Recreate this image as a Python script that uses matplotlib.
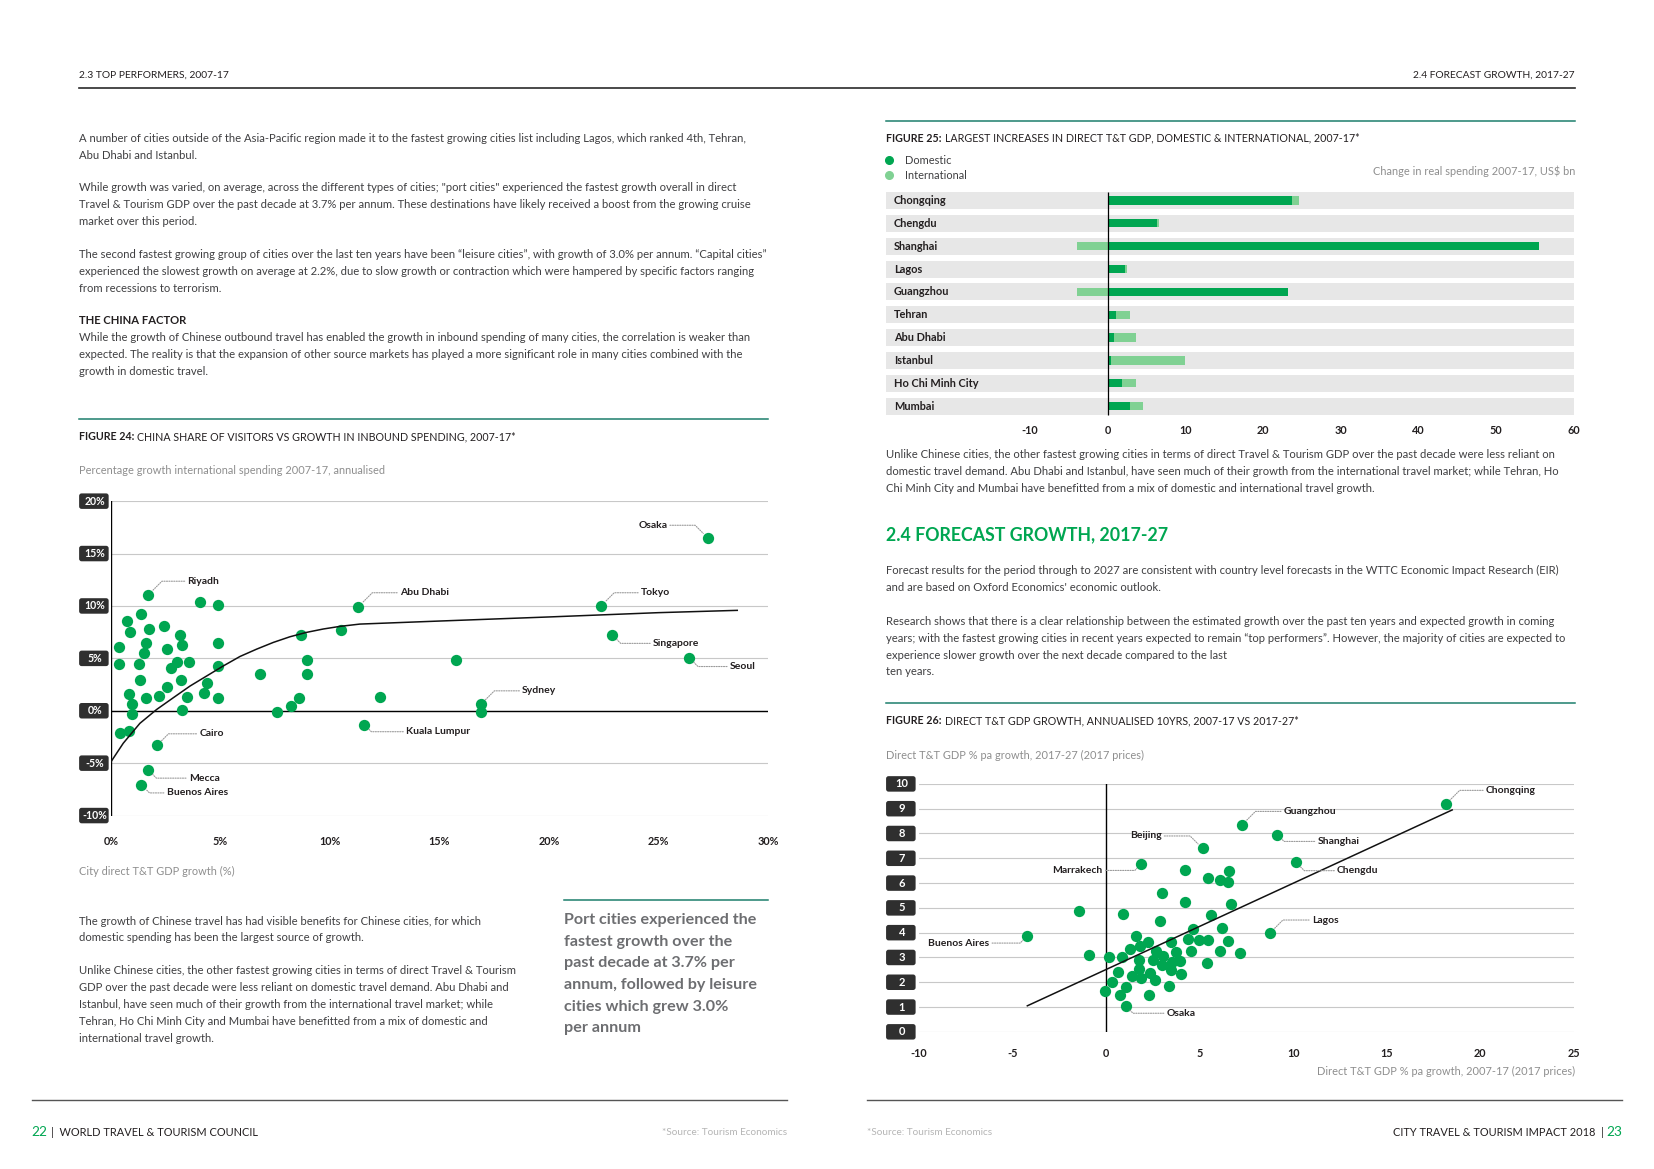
import matplotlib
matplotlib.use("Agg")
import matplotlib.pyplot as plt
from matplotlib.patches import FancyBboxPatch
from matplotlib.lines import Line2D
from matplotlib.transforms import IdentityTransform, blended_transform_factory

# ---- Figure 24: China share of visitors vs growth in inbound spending ----
city24 = ['Osaka', 'Riyadh', '', '', 'Abu Dhabi', 'Tokyo', '', '', '', '', '', '', '', '',
          'Singapore', '', '', '', '', '', '', '', '', '', '', '', '', '', '', 'Seoul',
          '', '', '', '', '', '', '', '', '', '', '', '', '', '', '', '', 'Sydney',
          '', '', '', '', '', '', 'Kuala Lumpur', 'Cairo', 'Mecca', 'Buenos Aires']
gdp_growth24 = [27.25, 1.71, 4.06, 4.91, 11.29, 22.38, 1.38, 0.73, 2.42, 1.75, 0.86, 3.15, 8.67, 10.5,
                22.9, 0.38, 1.63, 3.25, 4.91, 2.56, 1.5, 0.36, 1.27, 3.02, 3.56, 2.75, 4.91, 8.94, 15.75, 26.41,
                1.35, 3.2, 4.41, 6.82, 8.94, 2.56, 0.82, 4.25, 2.2, 3.5, 1.63, 4.91, 8.6, 12.27, 0.95, 8.25, 16.89,
                3.25, 0.95, 7.58, 16.89, 0.4, 0.83, 11.58, 2.11, 1.71, 1.4]
intl_growth24 = [16.5, 11.05, 10.37, 10.12, 9.9, 10.0, 9.27, 8.58, 8.1, 7.83, 7.55, 7.2, 7.25, 7.72,
                 7.22, 6.13, 6.44, 6.23, 6.44, 5.87, 5.5, 4.45, 4.46, 4.62, 4.63, 4.05, 4.24, 4.82, 4.89, 5.05,
                 2.95, 2.91, 2.63, 3.48, 3.48, 2.24, 1.62, 1.7, 1.4, 1.32, 1.18, 1.2, 1.23, 1.31, 0.67, 0.5, 0.6,
                 0.08, -0.3, -0.16, -0.1, -2.15, -1.97, -1.34, -3.3, -5.65, -7.07]
trend24_x = [0, 0.57, 1.33, 2.1, 2.86, 3.62, 4.38, 5.14, 5.9, 6.66, 7.42, 8.18, 8.94, 9.7, 10.46,
             11.37, 15, 20, 25, 28.6]
trend24_y = [-4.9, -3.1, -1.2, 0.13, 1.25, 2.36, 3.32, 4.28, 5.18, 5.88, 6.52, 7.06, 7.48, 7.8, 8.05,
             8.27, 8.56, 8.95, 9.36, 9.58]
xticks24 = [0, 5, 10, 15, 20, 25, 30]
yticks24 = [-10, -5, 0, 5, 10, 15, 20]

# ---- Figure 25: largest increases in direct T&T GDP ----
cities25 = ['Chongqing', 'Chengdu', 'Shanghai', 'Lagos', 'Guangzhou', 'Tehran', 'Abu Dhabi',
            'Istanbul', 'Ho Chi Minh City', 'Mumbai']
domestic25 = [23.7, 6.3, 55.5, 2.2, 23.2, 1.1, 0.8, 0.5, 1.8, 2.9]
international25 = [0.9, 0.3, -3.9, 0.35, -3.9, 1.8, 2.9, 9.5, 1.9, 1.6]
xticks25 = [-10, 0, 10, 20, 30, 40, 50, 60]

# ---- Figure 26: direct T&T GDP growth 2007-17 vs 2017-27 ----
city26 = ['Chongqing', 'Guangzhou', 'Shanghai', 'Beijing', 'Chengdu', 'Marrakech', '', '', '', '', '',
          '', '', '', '', '', '', '', '', '', 'Lagos', 'Buenos Aires', '', '', '', '', '', '', '', '', '',
          '', '', '', '', '', '', '', '', '', '', '', '', '', '', '', '', '', '', '', '', '', '', '', '',
          '', '', '', '', '', 'Osaka']
past26 = [18.16, 7.26, 9.16, 5.16, 10.15, 1.89, 4.2, 6.6, 5.46, 6.09, 6.52,
          3.0, 4.2, 6.67, -1.42, 0.9, 5.63, 2.89, 6.21, 4.67, 8.78, -4.2, 1.6, 2.26, 3.5, 4.4, 4.95, 5.47,
          6.51, 1.26, 1.82, 2.66, 3.75, 4.52, 6.09, 7.16, -0.9, 0.16, 0.85, 1.79, 2.51, 3.05, 3.51, 3.96,
          3.0, 5.42, 0.64, 1.77, 2.36, 3.5, 4.03, 1.4, 1.88, 2.62, 0.3, 1.05, 3.38, -0.03, 0.73, 2.32, 1.05]
future26 = [9.18, 8.34, 7.95, 7.4, 6.84, 6.77, 6.53, 6.49, 6.2, 6.13, 6.03,
            5.58, 5.22, 5.17, 4.87, 4.75, 4.71, 4.46, 4.2, 4.13, 4.0, 3.87, 3.88, 3.63, 3.63, 3.73, 3.71, 3.71,
            3.67, 3.36, 3.48, 3.25, 3.24, 3.26, 3.28, 3.2, 3.09, 3.01, 3.01, 2.91, 2.88, 3.05, 2.82, 2.85,
            2.68, 2.77, 2.42, 2.52, 2.38, 2.5, 2.33, 2.24, 2.16, 2.08, 2.0, 1.81, 1.84, 1.65, 1.48, 1.49, 1.05]
trend26_x = [-4.2, 18.5]
trend26_y = [1.05, 8.95]
xticks26 = [-10, -5, 0, 5, 10, 15, 20, 25]
yticks26 = list(range(0, 11))

# ---- styling ----
GREEN = '#00a651'
LIGHT_GREEN = '#80d193'
TEXT = '#3f3f41'
DARK = '#231f20'
GREY = '#8e8e8e'
TEAL = '#1d7f6c'
BOX = '#2f2f2f'
GRID = '#c8c8c8'
BAND = '#e7e7e7'
BODY = 8.1
CAP = 7.9
TITLE = 7.65

plt.rcParams['font.family'] = ['Lato', 'DejaVu Sans']

fig = plt.figure(figsize=(16.54, 11.69), dpi=100)
renderer = fig.canvas.get_renderer()

# layout measured on a 1568 x 1108 preview of the page
W, H = 1568.0, 1108.0
S = 1654.0 / W


def fx(x):
    return x / W


def fy(y):
    return 1 - y / H


def put(x, y, s, size=BODY, color=TEXT, **kw):
    return fig.text(fx(x), fy(y), s, size=size, color=color, va='center', **kw)


def put_after(t, s, gap=3, size=BODY, color=TEXT, **kw):
    bb = t.get_window_extent(renderer)
    return fig.text((bb.x1 + gap) / fig.bbox.width, t.get_position()[1], s,
                    size=size, color=color, va='center', **kw)


def hline(x0, x1, y, color, lw):
    fig.add_artist(Line2D([fx(x0), fx(x1)], [fy(y), fy(y)], transform=fig.transFigure,
                          color=color, lw=lw))


def lines(x, y0, step, rows, **kw):
    for i, r in enumerate(rows):
        put(x, y0 + i * step, r, **kw)


def tick_boxes(ax, values, x0, x1, fmt, h=15.5, size=7.6):
    for v in values:
        py = ax.transData.transform((0, v))[1]
        left, right = x0 * S, x1 * S
        fig.add_artist(FancyBboxPatch((left, py - h / 2), right - left, h,
                                      boxstyle='round,pad=0,rounding_size=2.5',
                                      transform=IdentityTransform(), fc=BOX, ec='none'))
        fig.text((left + right) / 2 + 1, py, fmt(v), transform=IdentityTransform(),
                 ha='center', va='center', color='white', size=size, weight='bold')


def label_points(ax, names, xs, ys, layout):
    for name, x, y in zip(names, xs, ys):
        if name in layout:
            tx, ty, ha, ang = layout[name]
            ax.annotate(name, xy=(x, y), xytext=(tx, ty), ha=ha, va='center', size=7.5,
                        weight='bold', color=DARK, zorder=6,
                        arrowprops=dict(arrowstyle='-', color='#9a9a9a', lw=0.8,
                                        linestyle=(0, (1, 1.2)), shrinkA=0, shrinkB=4.5,
                                        connectionstyle='angle,angleA=0,angleB=%d,rad=0' % ang))


def clean(ax):
    for sp in ax.spines.values():
        sp.set_visible(False)
    ax.set_facecolor('none')
    ax.tick_params(length=0)


# ---- page furniture ----
put(75, 71, '2.3 TOP PERFORMERS, 2007-17', size=7.4, color=DARK)
put(1493, 71, '2.4 FORECAST GROWTH, 2017-27', size=7.4, color=DARK, ha='right')
hline(75, 1493, 83, '#2a2a2a', 1.2)

lines(75, 131, 16, ['A number of cities outside of the Asia-Pacific region made it to the fastest growing cities list including Lagos, which ranked 4th, Tehran,',
                    'Abu Dhabi and Istanbul.'])
lines(75, 178, 16, ['While growth was varied, on average, across the different types of cities; "port cities" experienced the fastest growth overall in direct',
                    'Travel & Tourism GDP over the past decade at 3.7% per annum. These destinations have likely received a boost from the growing cruise',
                    'market over this period.'])
lines(75, 241, 16, ['The second fastest growing group of cities over the last ten years have been “leisure cities”, with growth of 3.0% per annum. “Capital cities”',
                    'experienced the slowest growth on average at 2.2%, due to slow growth or contraction which were hampered by specific factors ranging',
                    'from recessions to terrorism.'])
put(75, 304, 'THE CHINA FACTOR', color=DARK, weight='bold')
lines(75, 320, 16, ['While the growth of Chinese outbound travel has enabled the growth in inbound spending of many cities, the correlation is weaker than',
                    'expected. The reality is that the expansion of other source markets has played a more significant role in many cities combined with the',
                    'growth in domestic travel.'])

hline(75, 728, 397, TEAL, 1.1)
t = put(75, 414, 'FIGURE 24:', size=TITLE, color=DARK, weight='bold')
put_after(t, 'CHINA SHARE OF VISITORS VS GROWTH IN INBOUND SPENDING, 2007-17*', size=TITLE, color=DARK)
put(75, 446, 'Percentage growth international spending 2007-17, annualised', size=CAP, color=GREY)
put(75, 826, 'City direct T&T GDP growth (%)', size=CAP, color=GREY)

lines(75, 873, 16, ['The growth of Chinese travel has had visible benefits for Chinese cities, for which',
                    'domestic spending has been the largest source of growth.'])
lines(75, 920, 16, ['Unlike Chinese cities, the other fastest growing cities in terms of direct Travel & Tourism',
                    'GDP over the past decade were less reliant on domestic travel demand. Abu Dhabi and',
                    'Istanbul, have seen much of their growth from the international travel market; while',
                    'Tehran, Ho Chi Minh City and Mumbai have benefitted from a mix of domestic and',
                    'international travel growth.'])
hline(535, 728, 853, TEAL, 1.1)
lines(535, 872, 20.5, ['Port cities experienced the', 'fastest growth over the', 'past decade at 3.7% per',
                       'annum, followed by leisure', 'cities which grew 3.0%', 'per annum'],
      size=11.6, color='#6d6e71', weight='bold')

# right page text
hline(840, 1493, 115, TEAL, 1.1)
t = put(840, 131, 'FIGURE 25:', size=TITLE, color=DARK, weight='bold')
put_after(t, 'LARGEST INCREASES IN DIRECT T&T GDP, DOMESTIC & INTERNATIONAL, 2007-17*', size=TITLE, color=DARK)
for yy, col, lab in [(152, GREEN, 'Domestic'), (166, LIGHT_GREEN, 'International')]:
    fig.add_artist(Line2D([fx(843)], [fy(yy)], transform=fig.transFigure, marker='o',
                          ms=5.5, color=col, lw=0))
    put(858, yy, lab, size=CAP)
put(1493, 162, 'Change in real spending 2007-17, US$ bn', size=CAP, color=GREY, ha='right')

lines(840, 431, 16, ['Unlike Chinese cities, the other fastest growing cities in terms of direct Travel & Tourism GDP over the past decade were less reliant on',
                     'domestic travel demand. Abu Dhabi and Istanbul, have seen much of their growth from the international travel market; while Tehran, Ho',
                     'Chi Minh City and Mumbai have benefitted from a mix of domestic and international travel growth.'])
put(840, 507, '2.4 FORECAST GROWTH, 2017-27', size=12.8, color=GREEN, weight='bold')
lines(840, 541, 16, ['Forecast results for the period through to 2027 are consistent with country level forecasts in the WTTC Economic Impact Research (EIR)',
                     "and are based on Oxford Economics' economic outlook."])
lines(840, 589, 16, ['Research shows that there is a clear relationship between the estimated growth over the past ten years and expected growth in coming',
                     'years; with the fastest growing cities in recent years expected to remain “top performers”. However, the majority of cities are expected to',
                     'experience slower growth over the next decade compared to the last'])
put(840, 636, 'ten years.')

hline(840, 1493, 666, TEAL, 1.1)
t = put(840, 683, 'FIGURE 26:', size=TITLE, color=DARK, weight='bold')
put_after(t, 'DIRECT T&T GDP GROWTH, ANNUALISED 10YRS, 2007-17 VS 2017-27*', size=TITLE, color=DARK)
put(840, 716, 'Direct T&T GDP % pa growth, 2017-27 (2017 prices)', size=CAP, color=GREY)
put(1493, 1016, 'Direct T&T GDP % pa growth, 2007-17 (2017 prices)', size=CAP, color=GREY, ha='right')

# footer
hline(30, 746, 1043, '#555555', 1.0)
hline(822, 1538, 1043, '#555555', 1.0)
t = put(30, 1073, '22', size=9.8, color=GREEN)
put_after(t, '|  WORLD TRAVEL & TOURISM COUNCIL', gap=3, size=7.9, color=DARK)
put(746, 1073, '*Source: Tourism Economics', size=7.2, color='#b5b5b5', ha='right')
put(822, 1073, '*Source: Tourism Economics', size=7.2, color='#b5b5b5')
t = put(1538, 1073, '23', size=9.8, color=GREEN, ha='right')
bb = t.get_window_extent(renderer)
fig.text((bb.x0 - 3) / fig.bbox.width, fy(1073), 'CITY TRAVEL & TOURISM IMPACT 2018  |',
         size=7.9, color=DARK, va='center', ha='right')

# ---- Figure 24 ----
ax = fig.add_axes([fx(105), fy(773), fx(728) - fx(105), (773 - 475) / H])
clean(ax)
ax.set_xlim(0, 30)
ax.set_ylim(-10, 20)
ax.set_yticks(yticks24)
ax.yaxis.grid(True, color=GRID, lw=0.8)
ax.set_axisbelow(True)
ax.tick_params(labelleft=False)
ax.set_xticks(xticks24, ['%d%%' % v for v in xticks24])
ax.tick_params(axis='x', pad=14.5, labelsize=7.8, labelcolor=DARK)
for lbl in ax.get_xticklabels():
    lbl.set_fontweight('bold')
ax.axhline(0, color='black', lw=1.0, zorder=1)
ax.axvline(0, color='black', lw=1.0, zorder=1)
ax.scatter(gdp_growth24, intl_growth24, s=66, color=GREEN, lw=0, zorder=3, clip_on=False)
ax.plot(trend24_x, trend24_y, color='#111111', lw=1.1, zorder=4)
tick_boxes(ax, yticks24, 75, 103, lambda v: '%d%%' % v)
label_points(ax, city24, gdp_growth24, intl_growth24, {
    'Osaka': (25.4, 17.7, 'right', 135),
    'Riyadh': (3.5, 12.36, 'left', 45),
    'Abu Dhabi': (13.2, 11.26, 'left', 45),
    'Tokyo': (24.2, 11.26, 'left', 45),
    'Singapore': (24.75, 6.43, 'left', -45),
    'Seoul': (28.26, 4.22, 'left', -45),
    'Sydney': (18.78, 1.9, 'left', 45),
    'Kuala Lumpur': (13.48, -2.0, 'left', -45),
    'Cairo': (4.04, -2.2, 'left', 45),
    'Mecca': (3.56, -6.43, 'left', -45),
    'Buenos Aires': (2.55, -7.84, 'left', -45),
})

# ---- Figure 25 ----
ax = fig.add_axes([fx(840), fy(395.8), fx(1492) - fx(840), (395.8 - 179.2) / H])
clean(ax)
ax.set_xlim(-28.5, 59.6)
ax.set_ylim(len(cities25) - 0.5, -0.5)
rows = list(range(len(cities25)))
for i in rows:
    ax.axhspan(i - 0.37, i + 0.37, color=BAND, lw=0, zorder=0)
ax.barh(rows, domestic25, height=0.36, color=GREEN, zorder=2)
intl_left = [d if v > 0 else 0 for d, v in zip(domestic25, international25)]
ax.barh(rows, international25, left=intl_left, height=0.36, color=LIGHT_GREEN, zorder=2)
ax.vlines(0, -0.37, len(cities25) - 0.63, color='black', lw=0.9, zorder=3)
trans = blended_transform_factory(ax.transAxes, ax.transData)
for i, name in zip(rows, cities25):
    ax.text(0.011, i, name, transform=trans, va='center', ha='left', weight='bold',
            size=7.9, color=DARK)
ax.set_yticks([])
ax.set_xticks(xticks25, [str(v) for v in xticks25])
ax.tick_params(axis='x', pad=5.5, labelsize=7.8, labelcolor=DARK)
for lbl in ax.get_xticklabels():
    lbl.set_fontweight('bold')

# ---- Figure 26 ----
ax = fig.add_axes([fx(871), fy(978), fx(1492) - fx(871), (978 - 743) / H])
clean(ax)
ax.set_xlim(-10, 25)
ax.set_ylim(0, 10)
ax.set_yticks(yticks26)
ax.yaxis.grid(True, color=GRID, lw=0.8)
ax.set_axisbelow(True)
ax.tick_params(labelleft=False)
ax.set_xticks(xticks26, [str(v) for v in xticks26])
ax.tick_params(axis='x', pad=11.5, labelsize=7.8, labelcolor=DARK)
for lbl in ax.get_xticklabels():
    lbl.set_fontweight('bold')
ax.axvline(0, color='black', lw=1.0, zorder=1)
ax.scatter(past26, future26, s=66, color=GREEN, lw=0, zorder=3, clip_on=False)
ax.plot(trend26_x, trend26_y, color='#111111', lw=1.1, zorder=4)
tick_boxes(ax, yticks26, 840, 868, lambda v: '%d' % v, size=8)
label_points(ax, city26, past26, future26, {
    'Chongqing': (20.3, 9.74, 'left', 45),
    'Guangzhou': (9.5, 8.89, 'left', 45),
    'Shanghai': (11.3, 7.68, 'left', -45),
    'Beijing': (2.97, 7.9, 'right', 135),
    'Marrakech': (-0.17, 6.51, 'right', 45),
    'Chengdu': (12.35, 6.5, 'left', -45),
    'Lagos': (11.0, 4.51, 'left', 45),
    'Buenos Aires': (-6.23, 3.58, 'right', 45),
    'Osaka': (3.24, 0.75, 'left', -45),
})

fig.savefig('out.png', dpi=100, facecolor='white')
